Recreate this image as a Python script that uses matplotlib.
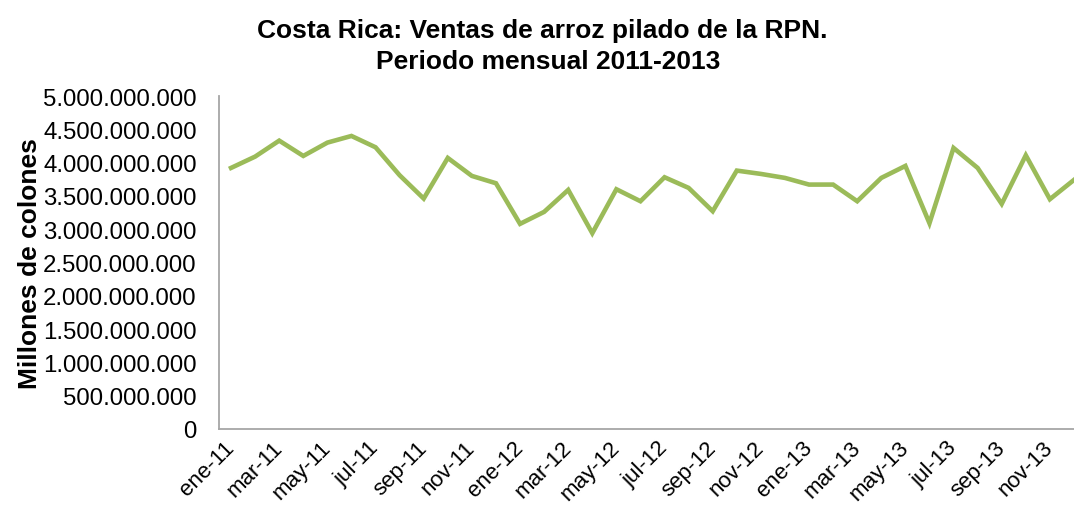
import matplotlib
matplotlib.use("Agg")
import matplotlib.pyplot as plt
from matplotlib.ticker import FuncFormatter

plt.rcParams['font.family'] = ['Liberation Sans', 'DejaVu Sans']

months = ["ene", "feb", "mar", "abr", "may", "jun", "jul", "ago", "sep", "oct", "nov", "dic"]
years = ["11", "12", "13"]
labels = [f"{m}-{y}" for y in years for m in months]

# ventas mensuales (colones)
ventas = [
    3.92e9, 4.09e9, 4.33e9, 4.10e9, 4.30e9, 4.40e9, 4.23e9, 3.81e9, 3.46e9, 4.07e9, 3.80e9, 3.69e9,
    3.08e9, 3.26e9, 3.59e9, 2.94e9, 3.60e9, 3.42e9, 3.78e9, 3.62e9, 3.27e9, 3.88e9, 3.83e9, 3.77e9,
    3.67e9, 3.67e9, 3.42e9, 3.77e9, 3.95e9, 3.09e9, 4.22e9, 3.92e9, 3.38e9, 4.11e9, 3.45e9, 3.74e9,
]

W, H = 1074, 506
fig = plt.figure(figsize=(W / 100, H / 100), dpi=100)
# plot area runs past the right edge of the image, as in the original
ax = fig.add_axes([219 / W, (H - 430) / H, (1086 - 219) / W, 333 / H])

x = list(range(len(ventas)))
ax.plot(x, ventas, color="#9BBB59", linewidth=3.3, solid_joinstyle="miter")

ax.set_xlim(-0.5, len(ventas) - 0.5)
ax.set_ylim(0, 5e9)
ax.set_yticks([i * 5e8 for i in range(11)])
ax.yaxis.set_major_formatter(FuncFormatter(lambda v, p: f"{int(v):,}".replace(",", ".")))
ax.set_xticks(x[::2])
ax.set_xticklabels(labels[::2], rotation=45, ha="right", va="center", rotation_mode="anchor")

ax.tick_params(axis="y", length=0, pad=16, labelsize=17.3)
ax.tick_params(axis="x", length=0, pad=11, labelsize=16)

for s in ["top", "right"]:
    ax.spines[s].set_visible(False)
for s in ["left", "bottom"]:
    ax.spines[s].set_color("#A6A6A6")
    ax.spines[s].set_linewidth(1.3)

ax.set_ylabel("Millones de colones", fontsize=19, fontweight="bold")
ax.yaxis.set_label_coords((42 - 219) / 867, 0.5)

fig.text(0.505, 1 - 38 / H, "Costa Rica: Ventas de arroz pilado de la RPN.",
         ha="center", va="baseline", fontsize=19, fontweight="bold")
fig.text(0.51, 1 - 69 / H, "Periodo mensual 2011-2013",
         ha="center", va="baseline", fontsize=19, fontweight="bold")

fig.savefig("out.png", dpi=100)
